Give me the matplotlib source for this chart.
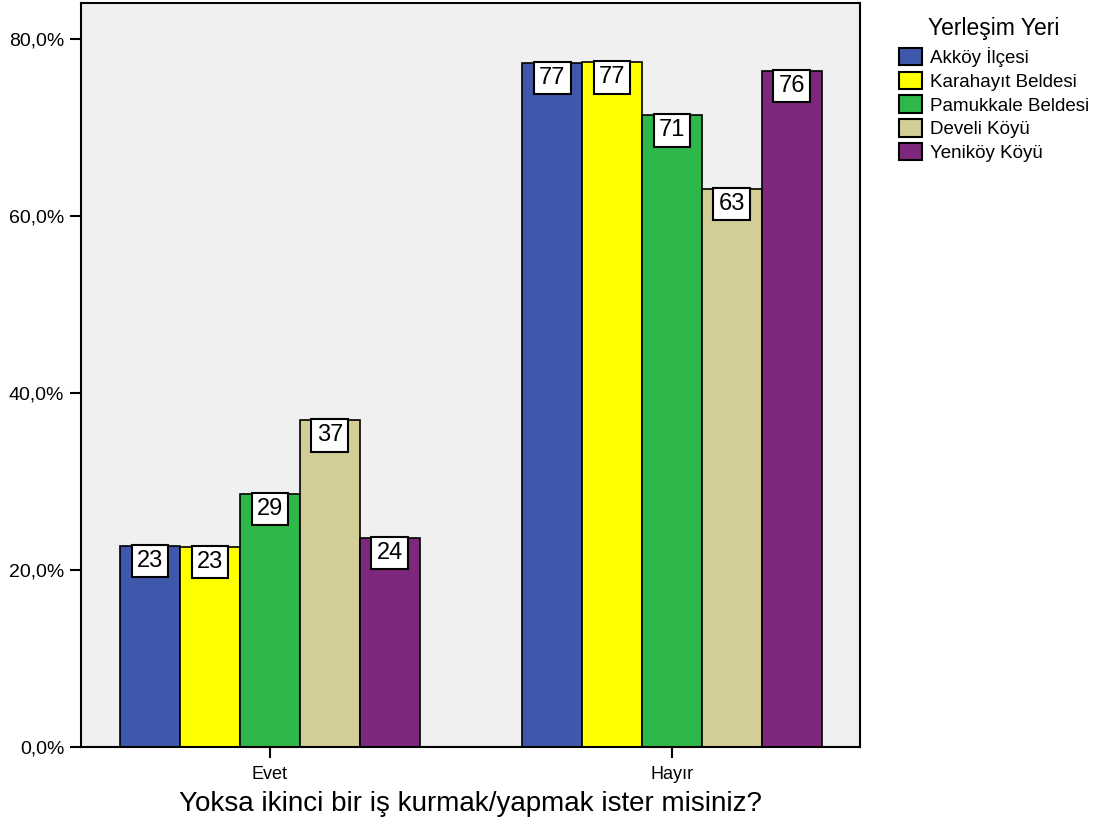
import matplotlib
matplotlib.use("Agg")
import matplotlib.pyplot as plt
import numpy as np

plt.rcParams['font.family'] = ['Liberation Sans', 'DejaVu Sans']

categories = ["Evet", "Hayır"]
series_names = ["Akköy İlçesi", "Karahayıt Beldesi", "Pamukkale Beldesi", "Develi Köyü", "Yeniköy Köyü"]
colors = ["#3f58ab", "#ffff00", "#2fb84a", "#d3ce98", "#7d287c"]
values = {
    "Akköy İlçesi": [22.7, 77.3],
    "Karahayıt Beldesi": [22.6, 77.4],
    "Pamukkale Beldesi": [28.6, 71.4],
    "Develi Köyü": [36.9, 63.1],
    "Yeniköy Köyü": [23.6, 76.4],
}
labels = {
    "Akköy İlçesi": ["23", "77"],
    "Karahayıt Beldesi": ["23", "77"],
    "Pamukkale Beldesi": ["29", "71"],
    "Develi Köyü": ["37", "63"],
    "Yeniköy Köyü": ["24", "76"],
}
yticks = [0, 20, 40, 60, 80]
ytick_labels = ["0,0%", "20,0%", "40,0%", "60,0%", "80,0%"]

fig = plt.figure(figsize=(11.05, 8.23), dpi=100)
ax = fig.add_axes([81/1105, 1-746.5/823, (860-81)/1105, (746.5-3)/823])
ax.set_facecolor("#f0f0f0")

x = np.arange(len(categories))
w = 0.149
n = len(series_names)
for i, name in enumerate(series_names):
    pos = x + (i - (n-1)/2) * w
    ax.bar(pos, values[name], width=w, color=colors[i], edgecolor="black", linewidth=1.2, label=name, zorder=2)
    for p, v, lab in zip(pos, values[name], labels[name]):
        ax.annotate(lab, xy=(p, v), xytext=(0, -3), textcoords="offset points",
                    ha="center", va="top", fontsize=17, zorder=3,
                    bbox=dict(boxstyle="square,pad=0.22", fc="white", ec="black", lw=1.5))

ax.set_xlim(-0.47, 1.468)
ax.set_ylim(0, 84.1)
ax.set_xticks(x)
ax.set_xticklabels(categories, fontsize=13)
ax.set_yticks(yticks)
ax.set_yticklabels(ytick_labels, fontsize=14)
ax.tick_params(axis="y", length=8, width=1.5, direction="out", pad=4)
ax.tick_params(axis="x", length=8, width=1.5, direction="out", pad=6)
for s in ax.spines.values():
    s.set_linewidth(1.5)
ax.set_xlabel("Yoksa ikinci bir iş kurmak/yapmak ister misiniz?", fontsize=20, labelpad=6)

leg = fig.legend(loc="upper left", bbox_to_anchor=(899/1105, 1-17/823), frameon=False,
                 title="Yerleşim Yeri", title_fontsize=16.5, fontsize=13.5,
                 handlelength=1.2, handleheight=1.05, handletextpad=0.45,
                 labelspacing=0.25, borderpad=0, borderaxespad=0)
leg._legend_box.sep = 5
for h in leg.legend_handles:
    h.set_linewidth(1.5)

fig.savefig("out.png", dpi=100)
